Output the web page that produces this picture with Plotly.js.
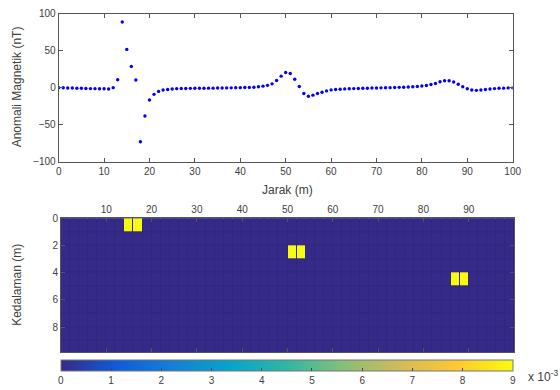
<!DOCTYPE html>
<html>
<head>
<meta charset="utf-8">
<script src="https://cdn.plot.ly/plotly-3.0.1.min.js"></script>
<style>html,body{margin:0;padding:0;background:#fff}#chart{width:560px;height:390px}</style>
</head>
<body>
<div id="chart"></div>
<script>
// ---- Data: magnetic anomaly profile ----
const jarak = [0,1,2,3,4,5,6,7,8,9,10,11,12,13,14,15,16,17,18,19,20,21,22,23,24,25,26,27,28,29,30,31,32,33,34,35,36,37,38,39,40,41,42,43,44,45,46,47,48,49,50,51,52,53,54,55,56,57,58,59,60,61,62,63,64,65,66,67,68,69,70,71,72,73,74,75,76,77,78,79,80,81,82,83,84,85,86,87,88,89,90,91,92,93,94,95,96,97,98,99,100];
const anomali = [0.3,0.1,-0.2,-0.3,-0.5,-0.6,-0.8,-1.0,-1.1,-1.2,-1.3,-1.6,0.3,11,89,52,29,10.6,-73,-38,-16.5,-8.8,-4.8,-3.0,-2.2,-1.5,-1.1,-0.9,-0.8,-0.7,-0.6,-0.5,-0.5,-0.4,-0.4,-0.3,-0.2,-0.1,0,0.1,0.3,0.4,0.6,0.9,1.4,2.3,3.4,5.4,9.9,15.8,20.7,19.4,11.7,1.8,-7.7,-11.3,-9.9,-7.7,-5.9,-4.1,-2.8,-2.2,-1.8,-1.4,-1.2,-1.0,-0.8,-0.6,-0.5,-0.3,-0.2,0,0.1,0.3,0.5,0.7,0.9,1.2,1.5,1.9,2.4,3.2,4.5,5.9,8.2,9.6,9.7,8.0,4.9,1.5,-1.2,-2.9,-3.4,-3.0,-2.2,-1.5,-1.0,-0.6,-0.4,-0.1,0];

// ---- Data: inversion model grid (cell centres) ----
const selJarak = [1,3,5,7,9,11,13,15,17,19,21,23,25,27,29,31,33,35,37,39,41,43,45,47,49,51,53,55,57,59,61,63,65,67,69,71,73,75,77,79,81,83,85,87,89,91,93,95,97,99];
const selKedalaman = [0.5,1.5,2.5,3.5,4.5,5.5,6.5,7.5,8.5,9.5];
const nilaiLatar = 0;
// anomalous bodies: depth row index, x start, x end, value
const bendaBaris = [0, 2, 4];
const bendaXAwal = [14, 50, 86];
const bendaXAkhir = [18, 54, 90];
const bendaNilai = [0.009, 0.009, 0.009];
const cbTickVals = [0,0.001,0.002,0.003,0.004,0.005,0.006,0.007,0.008,0.009];
const cbTickText = ['0','1','2','3','4','5','6','7','8','9'];
const xTicksTop = [0,10,20,30,40,50,60,70,80,90,100];
const xTicksBottom = [10,20,30,40,50,60,70,80,90];
const yTicksBottom = [0,2,4,6,8];

// build model matrix
const z = selKedalaman.map((d, r) => selJarak.map(x => {
  let v = nilaiLatar;
  for (let k = 0; k < bendaBaris.length; k++) {
    if (r === bendaBaris[k] && x > bendaXAwal[k] && x < bendaXAkhir[k]) v = bendaNilai[k];
  }
  return v;
}));

const parula = [
  [0.000,'#352a87'],[0.125,'#0f5cdd'],[0.250,'#1481d6'],[0.375,'#06a4ca'],
  [0.500,'#2eb7a4'],[0.625,'#87bf77'],[0.750,'#d1bb59'],[0.875,'#fec832'],[1.000,'#f9fb0e']
];

const FONT = 'Liberation Sans, Arial, Helvetica, sans-serif';
const TXT = '#404040';
const LINE = '#555555';

const traces = [
  {
    type: 'scatter', mode: 'markers', x: jarak, y: anomali,
    marker: {color: '#0000ff', size: 3.4},
    xaxis: 'x', yaxis: 'y', hoverinfo: 'x+y'
  },
  {
    type: 'heatmap', x: selJarak, y: selKedalaman, z: z,
    xaxis: 'x2', yaxis: 'y2', zmin: 0, zmax: 0.009,
    colorscale: parula, xgap: 1, ygap: 1,
    colorbar: {
      orientation: 'h', x: 0.5122, xanchor: 'center', y: 0.0692, yanchor: 'top',
      len: 0.808, lenmode: 'fraction', thickness: 11, thicknessmode: 'pixels',
      xpad: 0, ypad: 0, outlinewidth: 1, outlinecolor: '#777',
      ticks: 'inside', ticklen: 3, tickcolor: '#444',
      tickvals: cbTickVals, ticktext: cbTickText,
      tickfont: {family: FONT, size: 10, color: TXT}
    }
  }
];

const axCommon = {
  showline: true, linecolor: LINE, linewidth: 1, mirror: 'ticks',
  ticks: 'inside', ticklen: 4, tickcolor: LINE,
  showgrid: false, zeroline: false,
  tickfont: {family: FONT, size: 10, color: TXT}
};

const layout = {
  width: 560, height: 390,
  margin: {l: 0, r: 0, t: 0, b: 0},
  paper_bgcolor: '#ffffff', plot_bgcolor: '#ffffff',
  showlegend: false,
  font: {family: FONT, size: 10, color: TXT},
  xaxis: Object.assign({}, axCommon, {domain: [0.1048, 0.9155], range: [0, 100], tickvals: xTicksTop, anchor: 'y'}),
  yaxis: Object.assign({}, axCommon, {domain: [0.582, 0.964], range: [-100, 100], dtick: 50, anchor: 'x'}),
  xaxis2: Object.assign({}, axCommon, {domain: [0.1089, 0.9179], range: [0, 100], side: 'top', tickvals: xTicksBottom, anchor: 'y2'}),
  yaxis2: Object.assign({}, axCommon, {domain: [0.0897, 0.4359], range: [9.85, 0], tickvals: yTicksBottom, anchor: 'x2'}),
  shapes: [{
    type: 'rect', xref: 'x2 domain', yref: 'y2 domain', x0: 0, x1: 1, y0: 0, y1: 1,
    fillcolor: '#2e2680', line: {width: 0}, layer: 'below'
  }],
  annotations: [
    {text: 'Anomali Magnetik (nT)', xref: 'paper', yref: 'paper', x: 0.0304, y: 0.7744, textangle: -90,
     showarrow: false, xanchor: 'center', yanchor: 'middle', font: {family: FONT, size: 12, color: TXT}},
    {text: 'Jarak (m)', xref: 'paper', yref: 'paper', x: 0.5125, y: 0.5103,
     showarrow: false, xanchor: 'center', yanchor: 'middle', font: {family: FONT, size: 12, color: TXT}},
    {text: 'Kedalaman (m)', xref: 'paper', yref: 'paper', x: 0.0304, y: 0.2641, textangle: -90,
     showarrow: false, xanchor: 'center', yanchor: 'middle', font: {family: FONT, size: 12, color: TXT}},
    {text: 'x 10<sup>-3</sup>', xref: 'paper', yref: 'paper', x: 0.939, y: 0.028,
     showarrow: false, xanchor: 'left', yanchor: 'middle', font: {family: FONT, size: 12, color: TXT}}
  ]
};

Plotly.newPlot('chart', traces, layout, {displayModeBar: false, staticPlot: true});
</script>
</body>
</html>
